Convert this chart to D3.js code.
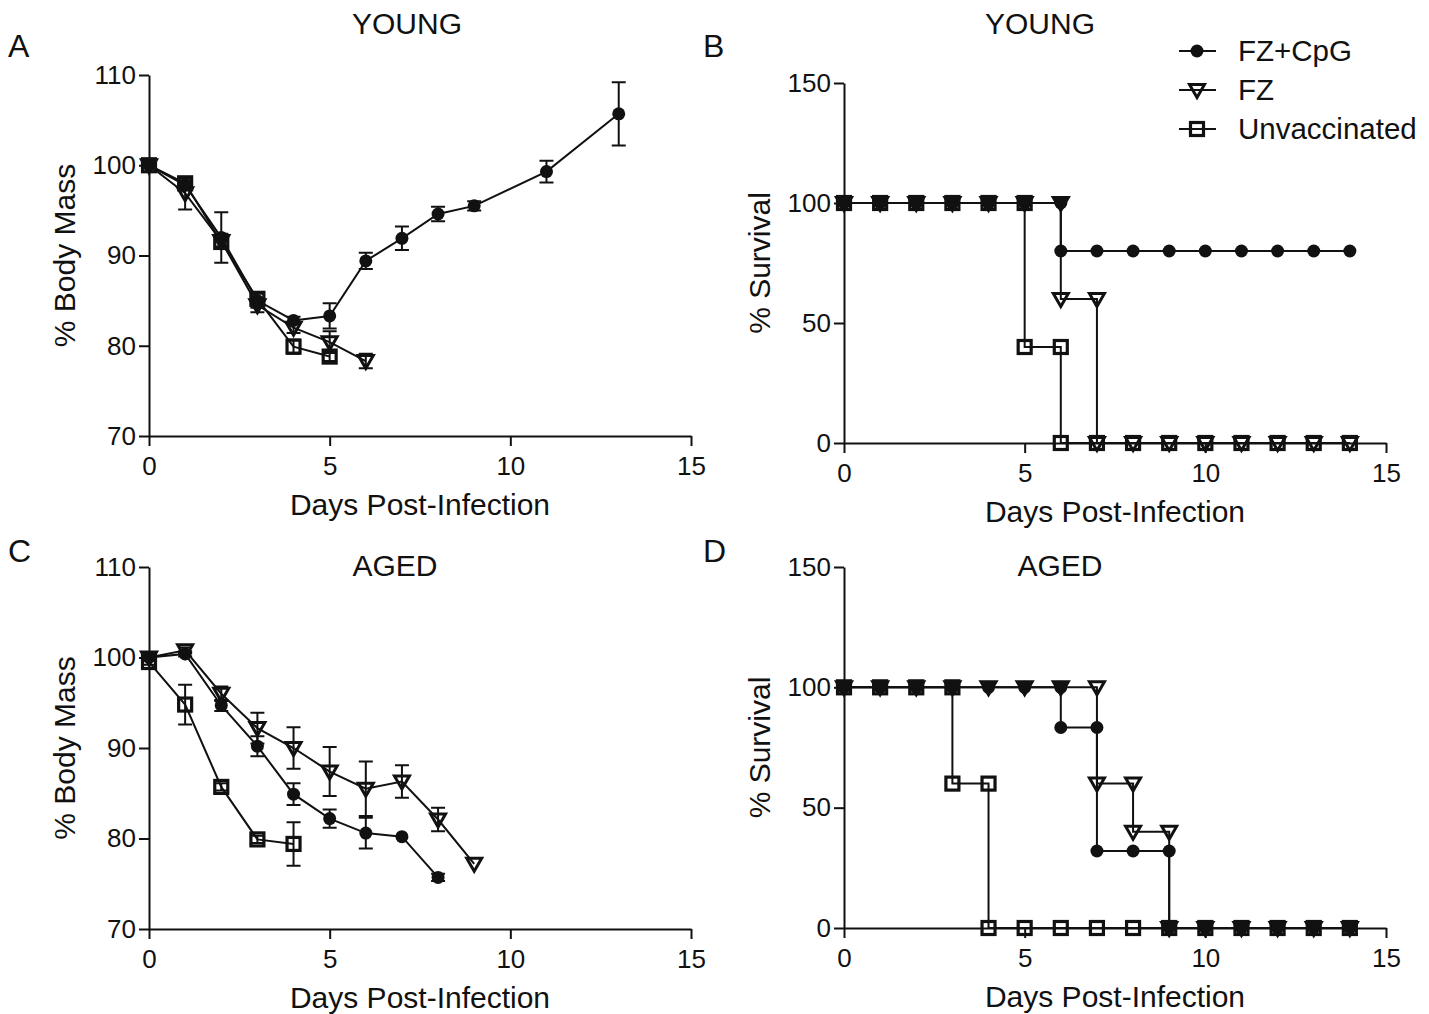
<!DOCTYPE html>
<html>
<head>
<meta charset="utf-8">
<script src="https://cdn.jsdelivr.net/npm/d3@7"></script>
<style>
body{margin:0;background:#fff;}
svg{font-family:"Liberation Sans",Arial,sans-serif;}
</style>
</head>
<body>
<svg width="1429" height="1014"></svg>
<script>
// ---- data: body mass, young (panel A) ----
var youngCpgDay  = [0,1,2,3,4,5,6,7,8,9,11,13];
var youngCpgMass = [100,97.8,92,85,82.8,83.3,89.4,91.9,94.6,95.5,99.3,105.7];
var youngCpgErr  = [0.3,0.5,2.8,0.8,0.4,1.4,0.9,1.3,0.8,0.5,1.2,3.5];
var youngFzDay   = [0,1,2,3,4,5,6];
var youngFzMass  = [100,96.9,91.6,84.5,82.0,80.4,78.3];
var youngFzErr   = [0.3,1.8,0.8,0.8,0.6,1.2,0.8];
var youngUnvDay  = [0,1,2,3,4,5];
var youngUnvMass = [100,98,91.5,85.2,79.9,78.8];
var youngUnvErr  = [0.3,0.5,0.5,0.6,0.8,0.5];

// ---- data: body mass, aged (panel C) ----
var agedCpgDay  = [0,1,2,3,4,5,6,7,8];
var agedCpgMass = [100,100.4,94.7,90.2,84.9,82.2,80.6,80.2,75.7];
var agedCpgErr  = [0.3,0.3,0.6,1.1,1.2,1.0,1.7,0,0.4];
var agedFzDay   = [0,1,2,3,4,5,6,7,8,9];
var agedFzMass  = [100,100.8,96.0,92.2,90.0,87.4,85.5,86.3,82.1,77.2];
var agedFzErr   = [0.3,0.3,0.8,1.7,2.3,2.7,3.0,1.8,1.3,0];
var agedUnvDay  = [0,1,2,3,4];
var agedUnvMass = [99.5,94.8,85.7,79.9,79.4];
var agedUnvErr  = [0.3,2.2,0.4,0.4,2.4];

// ---- data: survival, young (panel B) ----
var yCpgSurvDay = [0,1,2,3,4,5,6,6,7,8,9,10,11,12,13,14];
var yCpgSurv    = [100,100,100,100,100,100,100,80,80,80,80,80,80,80,80,80];
var yFzSurvDay  = [0,1,2,3,4,5,6,6,7,7,8,9,10,11,12,13,14];
var yFzSurv     = [100,100,100,100,100,100,100,60,60,0,0,0,0,0,0,0,0];
var yUnvSurvDay = [0,1,2,3,4,5,5,6,6,7,8,9,10,11,12,13,14];
var yUnvSurv    = [100,100,100,100,100,100,40,40,0,0,0,0,0,0,0,0,0];

// ---- data: survival, aged (panel D) ----
var aCpgSurvDay = [0,1,2,3,4,5,6,6,7,7,8,9,9,10,11,12,13,14];
var aCpgSurv    = [100,100,100,100,100,100,100,83.3,83.3,32,32,32,0,0,0,0,0,0];
var aFzSurvDay  = [0,1,2,3,4,5,6,7,7,8,8,9,9,10,11,12,13,14];
var aFzSurv     = [100,100,100,100,100,100,100,100,60,60,40,40,0,0,0,0,0,0];
var aUnvSurvDay = [0,1,2,3,3,4,4,5,6,7,8,9,10,11,12,13,14];
var aUnvSurv    = [100,100,100,100,60,60,0,0,0,0,0,0,0,0,0,0,0];

var dayTicks  = [0,5,10,15];
var massTicks = [70,80,90,100,110];
var survTicks = [0,50,100,150];
var groups = ["FZ+CpG","FZ","Unvaccinated"];
var shapes = ["circle","triangle","square"];

var svg = d3.select("svg");

function zip(xs, ys, es){
	return xs.map(function(x,i){ return {x:x, y:ys[i], e: es ? es[i] : 0}; });
}

function marker(g, shape, cx, cy){
	if(shape=="circle"){
		g.append("circle").attr("cx",cx).attr("cy",cy).attr("r",6.5).attr("fill","#111");
	} else if(shape=="square"){
		g.append("rect").attr("x",cx-6.5).attr("y",cy-6.5).attr("width",13).attr("height",13)
			.attr("fill","none").attr("stroke","#111").attr("stroke-width",3.2);
	} else {
		var s=7.5;
		g.append("path").attr("d","M"+(cx-s)+","+(cy-5.5)+"L"+(cx+s)+","+(cy-5.5)+"L"+cx+","+(cy+7.5)+"Z")
			.attr("fill","none").attr("stroke","#111").attr("stroke-width",3).attr("stroke-linejoin","miter");
	}
}

function panel(opt){
	var x = d3.scaleLinear().domain([0,15]).range(opt.xr);
	var y = d3.scaleLinear().domain(opt.yd).range(opt.yr);
	var g = svg.append("g");

	var xa = g.append("g").attr("transform","translate(0,"+opt.yr[0]+")")
		.call(d3.axisBottom(x).tickValues(dayTicks).tickSize(10).tickSizeOuter(0).tickPadding(11));
	var ya = g.append("g").attr("transform","translate("+opt.xr[0]+",0)")
		.call(d3.axisLeft(y).tickValues(opt.yt).tickSize(10).tickSizeOuter(0).tickPadding(3));
	[xa,ya].forEach(function(a){
		a.selectAll("path,line").attr("stroke","#111").attr("stroke-width",2);
		a.selectAll("text").attr("font-size",26).attr("fill","#111").attr("font-family","Liberation Sans, Arial, sans-serif");
	});

	var line = d3.line().x(function(d){return x(d.x);}).y(function(d){return y(d.y);});
	if(opt.step) line.curve(d3.curveStepAfter);

	opt.series.forEach(function(s,k){
		var sg = g.append("g");
		sg.append("path").datum(s).attr("d",line).attr("fill","none").attr("stroke","#111").attr("stroke-width",2);
		s.forEach(function(d){
			if(d.e>0){
				var cw=7;
				sg.append("path").attr("d",
					"M"+x(d.x)+","+y(d.y-d.e)+"V"+y(d.y+d.e)+
					"M"+(x(d.x)-cw)+","+y(d.y+d.e)+"H"+(x(d.x)+cw)+
					"M"+(x(d.x)-cw)+","+y(d.y-d.e)+"H"+(x(d.x)+cw))
					.attr("stroke","#111").attr("stroke-width",2).attr("fill","none");
			}
		});
		s.forEach(function(d){ marker(sg, shapes[k], x(d.x), y(d.y)); });
	});

	var mx = (opt.xr[0]+opt.xr[1])/2;
	g.append("text").attr("x",mx).attr("y",opt.yr[0]+79).attr("text-anchor","middle")
		.attr("font-size",30).attr("fill","#111").text("Days Post-Infection");
	g.append("text").attr("transform","translate("+opt.ylx+","+((opt.yr[0]+opt.yr[1])/2)+") rotate(-90)")
		.attr("text-anchor","middle").attr("font-size",30).attr("fill","#111").text(opt.ylab);
	g.append("text").attr("x",opt.tx).attr("y",opt.ty).attr("text-anchor","middle")
		.attr("font-size",30).attr("fill","#111").text(opt.title);
	g.append("text").attr("x",opt.lx).attr("y",opt.ly).attr("font-size",32).attr("fill","#111").text(opt.letter);
}

panel({xr:[149,691], yr:[436,75], yd:[70,110], yt:massTicks, step:false,
	series:[zip(youngCpgDay,youngCpgMass,youngCpgErr), zip(youngFzDay,youngFzMass,youngFzErr), zip(youngUnvDay,youngUnvMass,youngUnvErr)],
	ylab:"% Body Mass", ylx:75, title:"YOUNG", tx:407, ty:34, letter:"A", lx:8, ly:57});

panel({xr:[844,1386], yr:[443,83], yd:[0,150], yt:survTicks, step:true,
	series:[zip(yCpgSurvDay,yCpgSurv), zip(yFzSurvDay,yFzSurv), zip(yUnvSurvDay,yUnvSurv)],
	ylab:"% Survival", ylx:770, title:"YOUNG", tx:1040, ty:34, letter:"B", lx:703, ly:57});

panel({xr:[149,691], yr:[929,567], yd:[70,110], yt:massTicks, step:false,
	series:[zip(agedCpgDay,agedCpgMass,agedCpgErr), zip(agedFzDay,agedFzMass,agedFzErr), zip(agedUnvDay,agedUnvMass,agedUnvErr)],
	ylab:"% Body Mass", ylx:75, title:"AGED", tx:395, ty:576, letter:"C", lx:8, ly:562});

panel({xr:[844,1386], yr:[928,567], yd:[0,150], yt:survTicks, step:true,
	series:[zip(aCpgSurvDay,aCpgSurv), zip(aFzSurvDay,aFzSurv), zip(aUnvSurvDay,aUnvSurv)],
	ylab:"% Survival", ylx:770, title:"AGED", tx:1060, ty:576, letter:"D", lx:703, ly:562});

// legend
var leg = svg.append("g");
groups.forEach(function(name,i){
	var ly = 51 + i*39;
	var lg = leg.append("g");
	lg.append("line").attr("x1",1179).attr("x2",1216).attr("y1",ly).attr("y2",ly).attr("stroke","#111").attr("stroke-width",2);
	marker(lg, shapes[i], 1197, ly);
	lg.append("text").attr("x",1238).attr("y",ly+10).attr("font-size",29.5).attr("fill","#111").text(name);
});
</script>
</body>
</html>
